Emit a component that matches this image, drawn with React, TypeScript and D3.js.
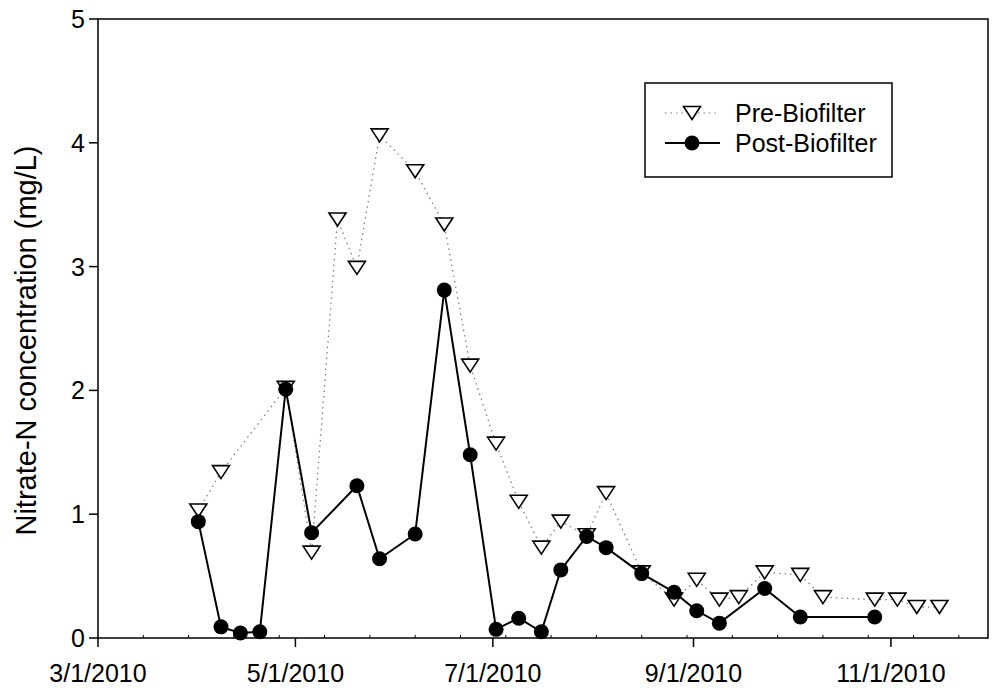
import { scaleLinear, scaleUtc, utcParse, line, utcDay, utcMonth } from "d3";

const preDates = [
  "4/1/2010", "4/8/2010", "4/28/2010", "5/6/2010", "5/14/2010", "5/20/2010", "5/27/2010",
  "6/7/2010", "6/16/2010", "6/24/2010", "7/2/2010", "7/9/2010", "7/16/2010", "7/22/2010",
  "7/30/2010", "8/5/2010", "8/16/2010", "8/26/2010", "9/2/2010", "9/9/2010", "9/15/2010",
  "9/23/2010", "10/4/2010", "10/11/2010", "10/27/2010", "11/3/2010", "11/9/2010", "11/16/2010",
];
const preValues = [
  1.03, 1.34, 2.02, 0.69, 3.38, 2.99, 4.06, 3.77, 3.34, 2.2, 1.57, 1.1, 0.73, 0.94,
  0.83, 1.17, 0.53, 0.31, 0.47, 0.31, 0.33, 0.53, 0.51, 0.33, 0.31, 0.31, 0.25, 0.25,
];

const postDates = [
  "4/1/2010", "4/8/2010", "4/14/2010", "4/20/2010", "4/28/2010", "5/6/2010", "5/20/2010",
  "5/27/2010", "6/7/2010", "6/16/2010", "6/24/2010", "7/2/2010", "7/9/2010", "7/16/2010",
  "7/22/2010", "7/30/2010", "8/5/2010", "8/16/2010", "8/26/2010", "9/2/2010", "9/9/2010",
  "9/23/2010", "10/4/2010", "10/27/2010",
];
const postValues = [
  0.94, 0.09, 0.04, 0.05, 2.01, 0.85, 1.23, 0.64, 0.84, 2.81, 1.48, 0.07, 0.16, 0.05,
  0.55, 0.82, 0.73, 0.52, 0.37, 0.22, 0.12, 0.4, 0.17, 0.17,
];

const xDomain = ["3/1/2010", "12/1/2010"];
const yTicks = [0, 1, 2, 3, 4, 5];
const seriesNames = ["Pre-Biofilter", "Post-Biofilter"];

type Pt = { date: Date; value: number };

const parse = utcParse("%m/%d/%Y");
const fmt = (d: Date) => `${d.getUTCMonth() + 1}/${d.getUTCDate()}/${d.getUTCFullYear()}`;

// open down-pointing triangle, centred on its bounding box
const triPath = "M-8.5,-6.5L8.5,-6.5L0,6.5Z";

const App = () => {
  const width = 992;
  const height = 692;
  const left = 98;
  const right = 988;
  const top = 19;
  const bottom = 638;
  const font = "Arial, 'Liberation Sans', sans-serif";

  const x = scaleUtc()
    .domain(xDomain.map((s) => parse(s) as Date))
    .range([left, right]);
  const y = scaleLinear().domain([0, 5]).range([bottom, top]);

  const pre: Pt[] = preDates.map((d, i) => ({ date: parse(d) as Date, value: preValues[i] }));
  const post: Pt[] = postDates.map((d, i) => ({ date: parse(d) as Date, value: postValues[i] }));

  const gen = line<Pt>()
    .x((d) => x(d.date))
    .y((d) => y(d.value));

  const start = x.domain()[0];
  const end = x.domain()[1];
  const majorTicks = utcMonth.every(2)!.range(start, utcDay.offset(end, 1));
  // minor ticks every 14 days from the axis start
  const minorTicks = utcDay.every(1)!
    .range(start, end)
    .filter((d) => Math.round((+d - +start) / 86400000) % 14 === 0 && +d !== +start);

  const triangle = (cx: number, cy: number, key: string | number) => (
    <path
      key={key}
      d={triPath}
      transform={`translate(${cx},${cy})`}
      fill="#fff"
      stroke="#000"
      strokeWidth={1.6}
    />
  );

  return (
    <svg
      width={width}
      height={height}
      style={{ position: "absolute", left: 0, top: 0 }}
      fontFamily={font}
    >
      <rect width={width} height={height} fill="#fff" />

      {/* frame */}
      <rect x={left} y={top} width={right - left} height={bottom - top} fill="none" stroke="#000" strokeWidth={1.5} />

      {/* y axis */}
      {yTicks.map((t) => (
        <g key={t}>
          <line x1={left - 9} x2={left} y1={y(t)} y2={y(t)} stroke="#000" strokeWidth={1.5} />
          <text x={left - 13} y={y(t)} dy="0.36em" textAnchor="end" fontSize={25}>
            {t}
          </text>
        </g>
      ))}

      {/* x axis */}
      {majorTicks.map((d) => (
        <g key={+d}>
          <line x1={x(d)} x2={x(d)} y1={bottom} y2={bottom + 9} stroke="#000" strokeWidth={1.5} />
          <text x={x(d)} y={bottom + 44} textAnchor="middle" fontSize={25}>
            {fmt(d)}
          </text>
        </g>
      ))}
      {minorTicks.map((d) => (
        <line key={+d} x1={x(d)} x2={x(d)} y1={bottom} y2={bottom - 3} stroke="#000" strokeWidth={1} />
      ))}

      <text
        transform={`translate(36,${(top + bottom) / 2 + 12}) rotate(-90)`}
        textAnchor="middle"
        fontSize={29}
      >
        Nitrate-N concentration (mg/L)
      </text>

      {/* pre-biofilter */}
      <path d={gen(pre) || ""} fill="none" stroke="#777" strokeWidth={1.2} strokeDasharray="1.5 4" />
      {pre.map((d, i) => triangle(x(d.date), y(d.value), i))}

      {/* post-biofilter */}
      <path d={gen(post) || ""} fill="none" stroke="#000" strokeWidth={2} />
      {post.map((d, i) => (
        <circle key={i} cx={x(d.date)} cy={y(d.value)} r={7.5} fill="#000" />
      ))}

      {/* legend */}
      <rect x={645} y={83} width={247} height={94} fill="#fff" stroke="#000" strokeWidth={1.5} />
      <line x1={665} x2={720} y1={113} y2={113} stroke="#777" strokeWidth={1.2} strokeDasharray="1.5 4" />
      {triangle(692, 113, "leg")}
      <text x={735} y={113} dy="0.36em" fontSize={25}>
        {seriesNames[0]}
      </text>
      <line x1={665} x2={720} y1={143} y2={143} stroke="#000" strokeWidth={2} />
      <circle cx={692} cy={143} r={7.5} fill="#000" />
      <text x={735} y={143} dy="0.36em" fontSize={25}>
        {seriesNames[1]}
      </text>
    </svg>
  );
};

export default App;
